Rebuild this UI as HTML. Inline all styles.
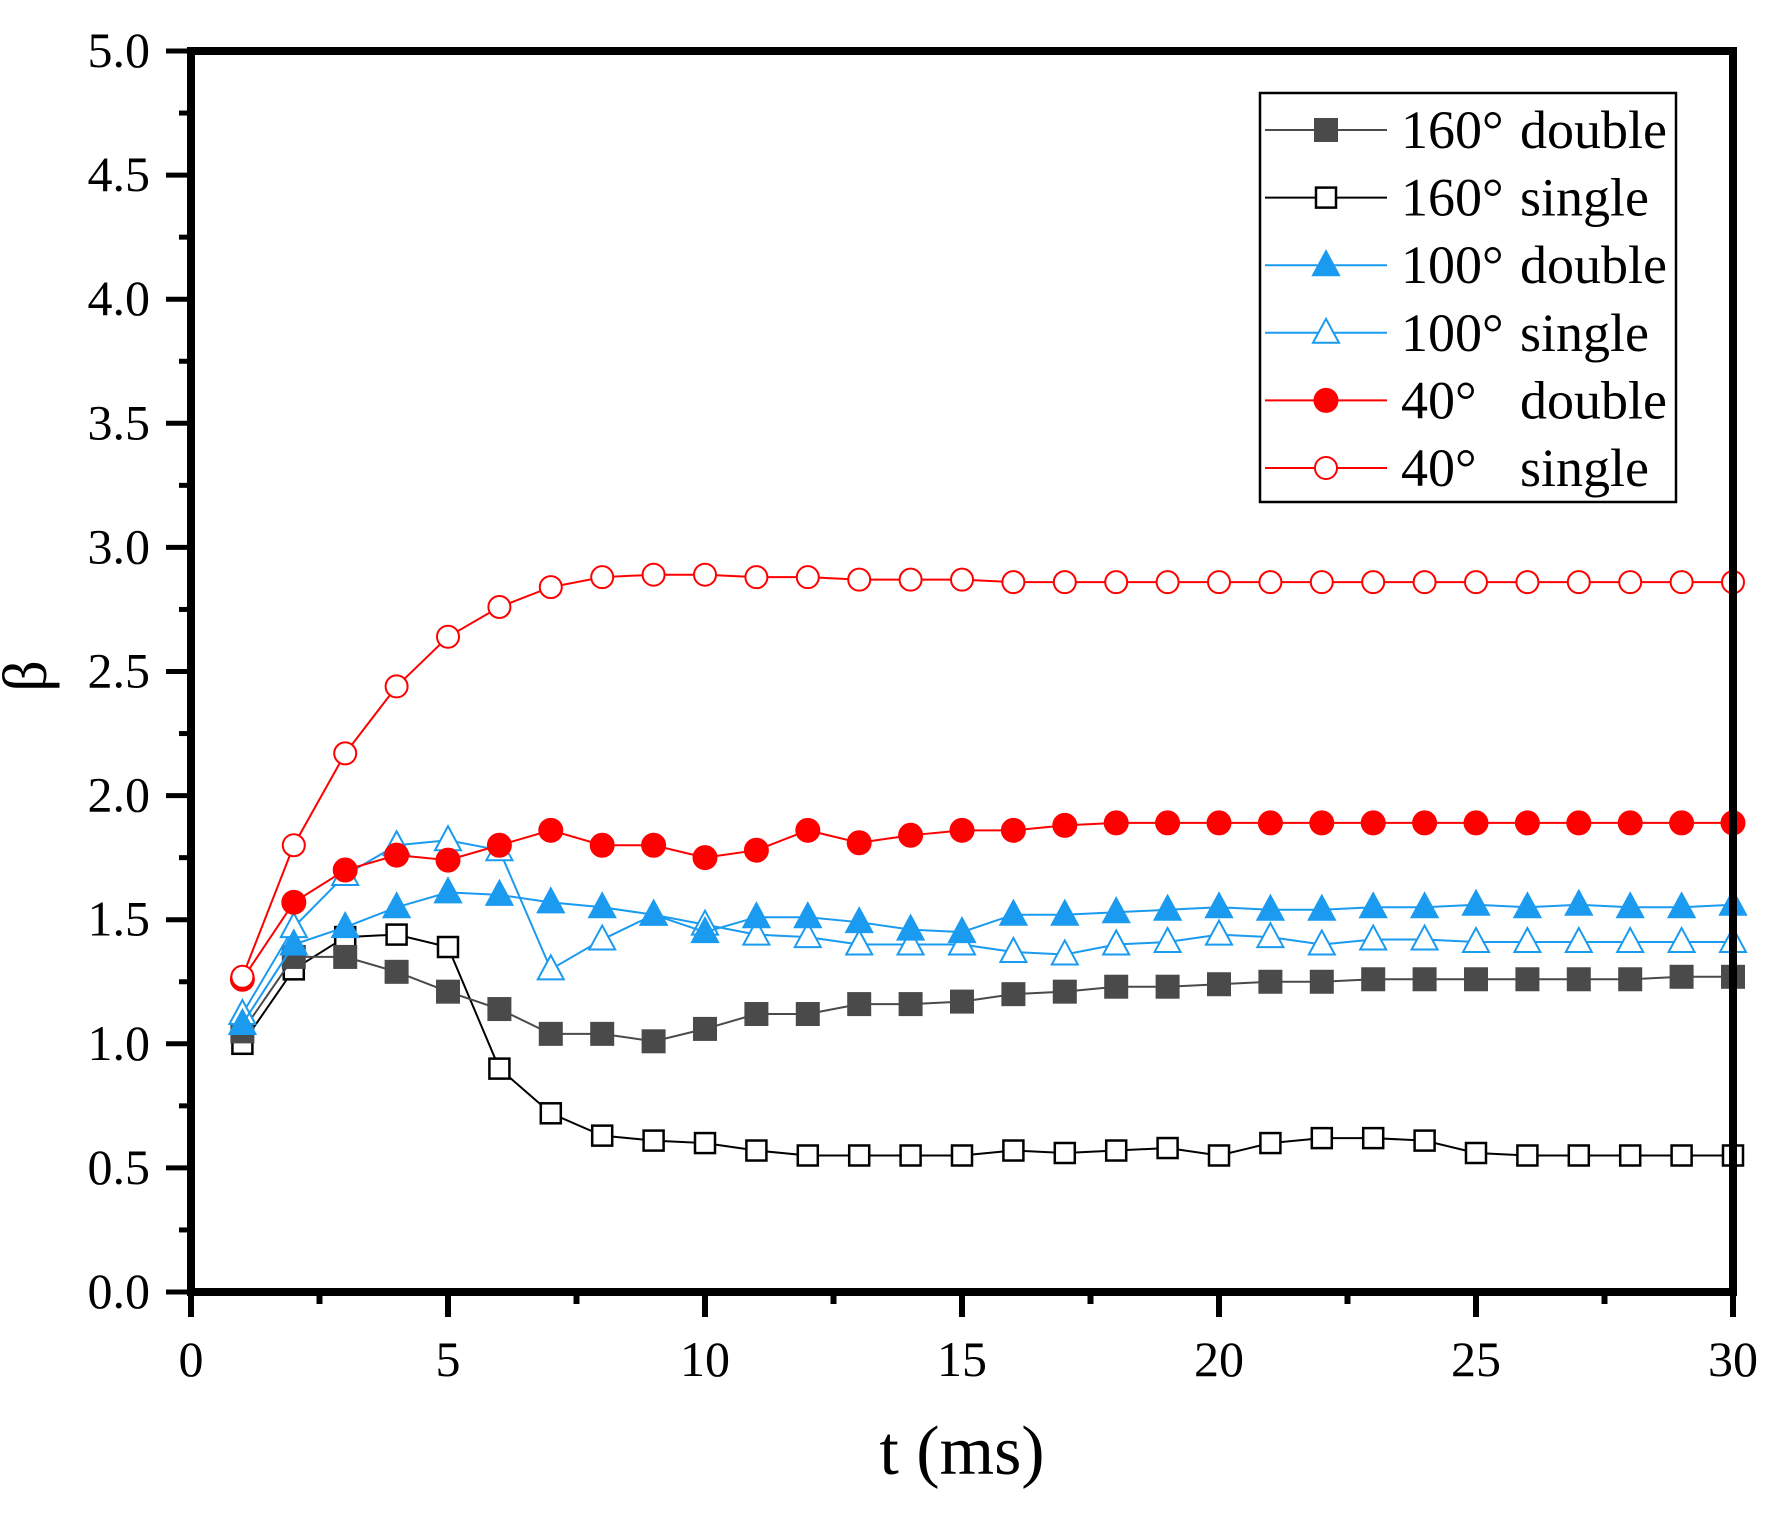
<!DOCTYPE html>
<html><head><meta charset="utf-8"><style>
html,body{margin:0;padding:0;background:#fff;}
svg{display:block;font-family:"Liberation Serif",serif;}
</style></head><body>
<svg id="chart" width="1787" height="1514" viewBox="0 0 1787 1514" xmlns="http://www.w3.org/2000/svg">
<g id="plot"></g>
</svg>
<script>
const tValues = [1,2,3,4,5,6,7,8,9,10,11,12,13,14,15,16,17,18,19,20,21,22,23,24,25,26,27,28,29,30];
const s160double = [1.05,1.35,1.35,1.29,1.21,1.14,1.04,1.04,1.01,1.06,1.12,1.12,1.16,1.16,1.17,1.20,1.21,1.23,1.23,1.24,1.25,1.25,1.26,1.26,1.26,1.26,1.26,1.26,1.27,1.27];
const s160single = [1.00,1.30,1.43,1.44,1.39,0.90,0.72,0.63,0.61,0.60,0.57,0.55,0.55,0.55,0.55,0.57,0.56,0.57,0.58,0.55,0.60,0.62,0.62,0.61,0.56,0.55,0.55,0.55,0.55,0.55];
const s100double = [1.08,1.40,1.47,1.55,1.61,1.60,1.57,1.55,1.52,1.45,1.51,1.51,1.49,1.46,1.45,1.52,1.52,1.53,1.54,1.55,1.54,1.54,1.55,1.55,1.56,1.55,1.56,1.55,1.55,1.56];
const s100single = [1.12,1.47,1.68,1.80,1.82,1.78,1.30,1.42,1.52,1.48,1.44,1.43,1.40,1.40,1.40,1.37,1.36,1.40,1.41,1.44,1.43,1.40,1.42,1.42,1.41,1.41,1.41,1.41,1.41,1.41];
const s40double = [1.26,1.57,1.70,1.76,1.74,1.80,1.86,1.80,1.80,1.75,1.78,1.86,1.81,1.84,1.86,1.86,1.88,1.89,1.89,1.89,1.89,1.89,1.89,1.89,1.89,1.89,1.89,1.89,1.89,1.89];
const s40single = [1.27,1.80,2.17,2.44,2.64,2.76,2.84,2.88,2.89,2.89,2.88,2.88,2.87,2.87,2.87,2.86,2.86,2.86,2.86,2.86,2.86,2.86,2.86,2.86,2.86,2.86,2.86,2.86,2.86,2.86];
const xTickLabels = ["0","5","10","15","20","25","30"];
const yTickLabels = ["0.0","0.5","1.0","1.5","2.0","2.5","3.0","3.5","4.0","4.5","5.0"];
const legendLabels = [["160°","double"],["160°","single"],["100°","double"],["100°","single"],["40°","double"],["40°","single"]];

const NS="http://www.w3.org/2000/svg";
const g=document.getElementById('plot');
const X0=191,X1=1733,Y0=1292,Y1=51;
const xs=v=>X0+(v-0)/30*(X1-X0);
const ys=v=>Y0-(v-0)/5*(Y0-Y1);
function mk(tag,attrs,parent){const e=document.createElementNS(NS,tag);for(const k in attrs)e.setAttribute(k,attrs[k]);(parent||g).appendChild(e);return e;}

for(let i=0;i<=12;i++){const v=i*2.5;const major=i%2===0;
  const t=mk('line',{x1:xs(v),x2:xs(v),y1:Y0,y2:Y0+(major?25:12),stroke:'#000','stroke-width':6});
  
  
}
xTickLabels.forEach((l,i)=>{const t=mk('text',{x:xs(i*5),y:1376,'font-size':50,'text-anchor':'middle'});t.textContent=l;
  
  
});
for(let i=0;i<=20;i++){const v=i*0.25;const major=i%2===0;
  const t=mk('line',{x1:X0-(major?25:12),x2:X0,y1:ys(v),y2:ys(v),stroke:'#000','stroke-width':5});
  
  
}
yTickLabels.forEach((l,i)=>{const t=mk('text',{x:150,y:ys(i*0.5)+16,'font-size':50,'text-anchor':'end'});t.textContent=l;
  
  
});

function marker(type,x,y,color,parent){
  const s=11;
  if(type==='sq') return mk('rect',{x:x-s,y:y-s,width:2*s,height:2*s,fill:color,stroke:color,'stroke-width':2},parent);
  if(type==='osq') return mk('rect',{x:x-s+1,y:y-s+1,width:2*s-2,height:2*s-2,fill:'#fff',stroke:color,'stroke-width':2.5},parent);
  if(type==='tri') return mk('polygon',{points:`${x},${y-14} ${x-13},${y+10} ${x+13},${y+10}`,fill:color,stroke:color,'stroke-width':2},parent);
  if(type==='otri') return mk('polygon',{points:`${x},${y-14} ${x-13},${y+10} ${x+13},${y+10}`,fill:'#fff',stroke:color,'stroke-width':2},parent);
  if(type==='dot') return mk('circle',{cx:x,cy:y,r:12,fill:color,stroke:color,'stroke-width':1},parent);
  if(type==='odot') return mk('circle',{cx:x,cy:y,r:11,fill:'#fff',stroke:color,'stroke-width':2},parent);
}
const series=[
  {d:s160single,m:'osq',c:'#000',n:'series-160-single'},
  {d:s160double,m:'sq',c:'#4a4a4a',n:'series-160-double'},
  {d:s100single,m:'otri',c:'#1a9bf0',n:'series-100-single'},
  {d:s100double,m:'tri',c:'#1a9bf0',n:'series-100-double'},
  {d:s40double,m:'dot',c:'#ff0000',n:'series-40-double'},
  {d:s40single,m:'odot',c:'#ff0000',n:'series-40-single'}
];
series.forEach(s=>{
  const sg=mk('g',{});
  
  
  mk('polyline',{points:tValues.map((t,i)=>xs(t)+','+ys(s.d[i])).join(' '),fill:'none',stroke:s.c,'stroke-width':2},sg);
  tValues.forEach((t,i)=>{const m=marker(s.m,xs(t),ys(s.d[i]),s.c,sg);
    
    
  });
});

const fr=mk('rect',{x:X0,y:Y1,width:X1-X0,height:Y0-Y1,fill:'none',stroke:'#000','stroke-width':8});



const xt=mk('text',{x:962,y:1474,'font-size':70,'text-anchor':'middle','xml:space':'preserve'});xt.textContent='t  (ms)';


const yt=mk('text',{x:0,y:0,'font-size':62,'text-anchor':'middle',transform:'translate(46,676) rotate(-90)'});yt.textContent='β';



const lg=mk('g',{});


mk('rect',{x:1260,y:93,width:416,height:409,fill:'#fff',stroke:'#000','stroke-width':2.5},lg);
const lt=['sq','osq','tri','otri','dot','odot'];
const lc=['#4a4a4a','#000','#1a9bf0','#1a9bf0','#ff0000','#ff0000'];
legendLabels.forEach((l,i)=>{
  const y=130+i*67.6;
  const e=mk('g',{},lg);
  
  
  mk('line',{x1:1265,x2:1387,y1:y,y2:y,stroke:lc[i],'stroke-width':2},e);
  marker(lt[i],1326,y,lc[i],e);
  const a=mk('text',{x:1401,y:y+18,'font-size':54},e);a.textContent=l[0];
  const b=mk('text',{x:1520,y:y+18,'font-size':54},e);b.textContent=l[1];
});
</script>
</body></html>
